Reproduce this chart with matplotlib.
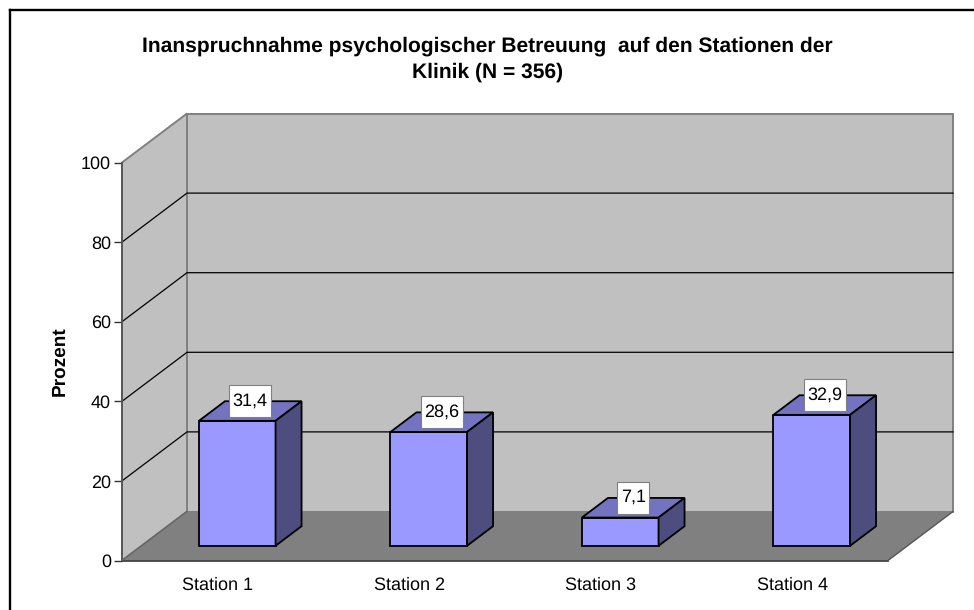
import matplotlib
matplotlib.use('Agg')
import matplotlib.pyplot as plt
from matplotlib.lines import Line2D
from matplotlib.patches import Polygon, Rectangle

stations = ['Station 1', 'Station 2', 'Station 3', 'Station 4']
prozent = [31.4, 28.6, 7.1, 32.9]
labels = ['31,4', '28,6', '7,1', '32,9']
y_ticks = [0, 20, 40, 60, 80, 100]
titel = 'Inanspruchnahme psychologischer Betreuung  auf den Stationen der\nKlinik (N = 356)'

W, H = 974, 610
plt.rcParams['font.family'] = ['Liberation Sans', 'DejaVu Sans']
plt.rcParams['text.hinting'] = 'no_hinting'
plt.rcParams['text.hinting_factor'] = 1

fig = plt.figure(figsize=(W / 100, H / 100), dpi=100, facecolor='white')
# Vorderkante des Diagramms in Pixeln
L, R, T, B = 122, 888, 162.5, 560.5
ax = fig.add_axes([L / W, 1 - B / H, (R - L) / W, (B - T) / H])
ax.set_xlim(-0.5, 3.5)
ax.set_ylim(0, 100)
ax.patch.set_visible(False)
for s in ax.spines.values():
    s.set_visible(False)

# Tiefe der 3D-Darstellung in Dateneinheiten
DX = 65 / 191.5
DY = 49 / 3.98


def pr(x, y, d=0.0):
    return (x + d * DX, y + d * DY)


def poly(pts, fc, ec='none', lw=1.0, z=1):
    ax.add_patch(Polygon(pts, closed=True, fc=fc, ec=ec, lw=lw, zorder=z,
                         clip_on=False, joinstyle='miter'))


x0, x1 = -0.5, 3.5
# Wände und Boden
poly([pr(x0, 0, 1), pr(x1, 0, 1), pr(x1, 100, 1), pr(x0, 100, 1)], '#C0C0C0', '#808080', 1.4)
poly([pr(x0, 0, 0), pr(x0, 0, 1), pr(x0, 100, 1), pr(x0, 100, 0)], '#C0C0C0', '#808080', 1.4)
poly([pr(x0, 0, 0), pr(x1, 0, 0), pr(x1, 0, 1), pr(x0, 0, 1)], '#808080', 'none', z=2)

# Gitterlinien
for t in y_ticks[1:-1]:
    xs, ys = zip(pr(x0, t, 0), pr(x0, t, 1), pr(x1, t, 1))
    ax.plot(xs, ys, color='black', lw=0.9, zorder=3, clip_on=False, solid_joinstyle='miter')

# Kanten
ax.plot([x0, x0], [0, 100], color='#555555', lw=1.3, zorder=4, clip_on=False)
ax.plot([x0, x1], [0, 0], color='#333333', lw=1.2, zorder=4, clip_on=False)
ax.plot(*zip(pr(x0, 0, 0), pr(x0, 0, 1)), color='#666666', lw=1.0, zorder=4, clip_on=False)
ax.plot(*zip(pr(x1, 0, 0), pr(x1, 0, 1)), color='#555555', lw=1.0, zorder=4, clip_on=False)

# Balken
bw = 0.2
d0, d1 = 0.3, 0.7
for i, v in enumerate(prozent):
    a, b = i - bw, i + bw
    poly([pr(a, 0, d0), pr(b, 0, d0), pr(b, v, d0), pr(a, v, d0)], '#9999FF', 'black', 1.3, 5)
    poly([pr(a, v, d0), pr(b, v, d0), pr(b, v, d1), pr(a, v, d1)], '#7373BF', 'black', 1.3, 5)
    poly([pr(b, 0, d0), pr(b, 0, d1), pr(b, v, d1), pr(b, v, d0)], '#4D4D80', 'black', 1.3, 5)

# Achsen
ax.set_xticks(range(4), stations)
ax.set_yticks(y_ticks)
ax.tick_params(axis='x', length=0, pad=11.5, labelsize=12.8, colors='black')
ax.tick_params(axis='y', length=5.5, width=1.0, pad=2.5, labelsize=12.8, color='#333333')

# Werte mit weißem Kasten
fig.canvas.draw()
rend = fig.canvas.get_renderer()
for i, v in enumerate(prozent):
    # Kasten sitzt mittig über der Balkenoberseite, knapp über der Vorderkante
    cx = ax.transData.transform(pr(i, v, 0.5))[0]
    cy = ax.transData.transform(pr(i, v, d0))[1] + 20
    tx = fig.text(cx / W, cy / H, labels[i], ha='center', va='center', fontsize=13, zorder=9)
    box_w = tx.get_window_extent(rend).width + 7
    fig.add_artist(Rectangle((cx - box_w / 2, cy - 16), box_w, 32, transform=None,
                             fc='white', ec='#808080', lw=0.8, zorder=7))

fig.text(487.5 / W, 1 - 59 / H, titel, ha='center', va='center', fontsize=14.85,
         fontweight='bold', linespacing=1.46)
fig.text(60 / W, 1 - 361 / H, 'Prozent', rotation=90, ha='center', va='center',
         fontsize=13.6, fontweight='bold')

# Rahmen nur oben und links
fig.add_artist(Line2D([9.5 / W, 1], [1 - 9.5 / H, 1 - 9.5 / H], color='black', lw=1.7))
fig.add_artist(Line2D([9.5 / W, 9.5 / W], [0, 1 - 9.5 / H], color='black', lw=1.7))

fig.savefig('out.png', dpi=100)
